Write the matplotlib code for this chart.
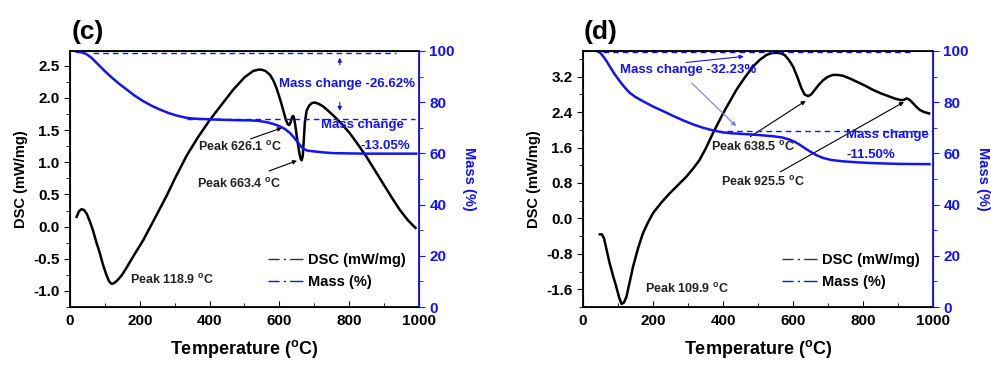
import matplotlib.pyplot as plt
from matplotlib.lines import Line2D
from matplotlib.ticker import MultipleLocator

plt.rcParams['font.family'] = ['Liberation Sans', 'DejaVu Sans']
plt.rcParams['font.weight'] = 'bold'
plt.rcParams['axes.labelweight'] = 'bold'
plt.rcParams['axes.unicode_minus'] = False
plt.rcParams['mathtext.fontset'] = 'custom'
plt.rcParams['mathtext.rm'] = 'Liberation Sans:bold'
plt.rcParams['mathtext.bf'] = 'Liberation Sans:bold'

BLUE = '#1414f0'

# ---- panel (c) data ----
c_temp = [19, 26, 33, 40, 48, 57, 66, 76, 86, 95, 105, 112, 119, 126, 135, 148, 162, 185, 210,
          250, 277, 300, 334, 368, 401, 435, 468, 500, 525, 540, 549, 560, 573, 583, 592, 602,
          611, 618, 624, 628, 632, 637, 640, 643, 647, 652, 657, 661, 664, 667, 670, 673, 678,
          685, 693, 701, 712, 725, 740, 754, 778, 802, 826, 849, 873, 897, 921, 945, 968, 990]
c_dsc = [0.15, 0.24, 0.27, 0.26, 0.20, 0.08, -0.06, -0.25, -0.42, -0.60, -0.76, -0.85, -0.89,
         -0.88, -0.84, -0.76, -0.64, -0.43, -0.21, 0.20, 0.48, 0.74, 1.10, 1.40, 1.66, 1.90,
         2.13, 2.32, 2.42, 2.44, 2.44, 2.42, 2.36, 2.27, 2.15, 1.98, 1.81, 1.67, 1.59, 1.58,
         1.62, 1.71, 1.72, 1.66, 1.52, 1.32, 1.15, 1.05, 1.03, 1.10, 1.35, 1.62, 1.80, 1.88,
         1.92, 1.93, 1.91, 1.87, 1.80, 1.73, 1.60, 1.45, 1.27, 1.09, 0.88, 0.67, 0.46, 0.26,
         0.10, -0.02]

c_mass_temp = [19, 35, 48, 62, 76, 95, 115, 138, 162, 186, 210, 234, 258, 282, 305, 330, 353,
               385, 420, 470, 515, 540, 563, 583, 601, 616, 630, 642, 654, 662, 668, 680, 697,
               725, 754, 800, 849, 992]
c_mass = [99.7, 99.4, 98.7, 97.3, 95.4, 92.8, 90.2, 87.5, 85.0, 82.5, 80.4, 78.6, 77.1, 75.8,
          74.8, 74.0, 73.6, 73.4, 73.2, 73.0, 72.9, 72.7, 72.2, 71.5, 70.6, 69.5, 68.0, 66.2,
          64.1, 62.7, 61.8, 61.1, 60.8, 60.4, 60.1, 60.0, 59.9, 59.9]

# ---- panel (d) data ----
d_temp = [48, 54, 60, 66, 76, 86, 95, 103, 110, 117, 124, 133, 143, 157, 171, 185, 200, 224,
          248, 271, 295, 314, 333, 352, 371, 400, 438, 462, 486, 505, 524, 538, 552, 564, 576,
          588, 600, 612, 624, 633, 643, 652, 662, 674, 686, 700, 714, 728, 743, 762, 781, 805,
          829, 852, 876, 893, 910, 918, 924, 931, 938, 950, 962, 975, 989]
d_dsc = [-0.36, -0.36, -0.45, -0.66, -1.01, -1.30, -1.54, -1.78, -1.93, -1.90, -1.77, -1.45,
         -1.09, -0.68, -0.34, -0.10, 0.12, 0.36, 0.57, 0.75, 0.94, 1.12, 1.32, 1.60, 1.92, 2.37,
         2.90, 3.18, 3.43, 3.58, 3.69, 3.73, 3.74, 3.73, 3.69, 3.58, 3.43, 3.20, 2.94, 2.80,
         2.76, 2.80, 2.90, 3.02, 3.12, 3.20, 3.24, 3.24, 3.22, 3.16, 3.09, 3.00, 2.90, 2.82,
         2.75, 2.70, 2.67, 2.68, 2.71, 2.69, 2.64, 2.54, 2.45, 2.40, 2.37]

d_mass_temp = [43, 50, 57, 66, 76, 90, 105, 119, 133, 150, 171, 200, 229, 258, 286, 315, 343,
               371, 400, 430, 457, 500, 543, 570, 590, 605, 619, 633, 648, 667, 686, 710, 743,
               785, 829, 900, 990]
d_mass = [99.7, 99.2, 98.0, 96.3, 94.1, 91.0, 88.2, 85.8, 83.7, 82.0, 80.4, 78.3, 76.5, 74.6,
          72.9, 71.3, 70.0, 69.0, 68.2, 67.8, 67.6, 67.2, 66.7, 66.2, 65.4, 64.5, 63.4, 62.1,
          60.8, 59.3, 58.2, 57.4, 56.9, 56.5, 56.2, 55.9, 55.8]

legend_labels = ['DSC (mW/mg)', 'Mass (%)']
deg = r'$^{\rm o}$'


def style_axes(ax, ax2, ylim, ymajor):
    ax.set_xlim(0, 1000)
    ax.set_ylim(*ylim)
    ax2.set_ylim(0, 100)
    ax.xaxis.set_major_locator(MultipleLocator(200))
    ax.xaxis.set_minor_locator(MultipleLocator(100))
    ax.yaxis.set_major_locator(MultipleLocator(ymajor))
    ax.yaxis.set_minor_locator(MultipleLocator(ymajor / 2))
    ax2.yaxis.set_major_locator(MultipleLocator(20))
    ax2.yaxis.set_minor_locator(MultipleLocator(10))
    ax.tick_params(axis='x', which='both', direction='in', labelsize=11, pad=5)
    ax.tick_params(axis='x', which='major', length=4)
    ax.tick_params(axis='x', which='minor', length=3)
    ax.tick_params(axis='y', which='major', direction='out', length=4, labelsize=11)
    ax.tick_params(axis='y', which='minor', direction='out', length=3)
    ax2.tick_params(axis='y', which='major', direction='out', length=4, labelsize=11,
                    colors=BLUE)
    ax2.tick_params(axis='y', which='minor', direction='out', length=3, colors=BLUE)
    ax2.spines['right'].set_color(BLUE)
    ax2.spines['right'].set_linewidth(1.3)
    for s in ['left', 'bottom', 'top']:
        ax.spines[s].set_linewidth(1.3)
    ax.set_xlabel('Temperature (' + deg + 'C)', fontsize=13, labelpad=7)
    ax.set_ylabel('DSC (mW/mg)', fontsize=10.5, labelpad=4)
    ax2.set_ylabel('Mass (%)', fontsize=10.5, color=BLUE, rotation=270, labelpad=15)
    for lab in ax.get_xticklabels() + ax.get_yticklabels() + ax2.get_yticklabels():
        lab.set_fontweight('bold')
    handles = [Line2D([], [], color='#333333', lw=1.0, ls=(0, (8, 3, 1.6, 3, 10, 3))),
               Line2D([], [], color=BLUE, lw=1.0, ls=(0, (8, 3, 1.6, 3, 10, 3)))]
    ax2.legend(handles, legend_labels, loc='lower left', bbox_to_anchor=(0.53, 0.02),
               frameon=False, fontsize=10.5, handlelength=2.4, handletextpad=0.35,
               labelspacing=0.5)


fig = plt.figure(figsize=(9.91, 3.65), dpi=100)

# ---------- (c) ----------
axc = fig.add_axes([0.0706, 0.1589, 0.3522, 0.7014])
axc2 = axc.twinx()
axc.plot(c_temp, c_dsc, color='black', lw=1.8)
axc2.plot(c_mass_temp, c_mass, color=BLUE, lw=1.8)
axc2.plot([67, 935], [99.3, 99.3], color=BLUE, lw=1.0, ls=(0, (4, 3)))
axc2.plot([334, 988], [73.5, 73.5], color=BLUE, lw=1.0, ls=(0, (4, 3)))
style_axes(axc, axc2, (-1.25, 2.73), 0.5)

axc2.annotate('', xy=(773, 98.5), xytext=(773, 93.5),
              arrowprops=dict(arrowstyle='-|>', color=BLUE, lw=0.8, mutation_scale=6))
axc2.annotate('', xy=(773, 75.5), xytext=(773, 81),
              arrowprops=dict(arrowstyle='-|>', color=BLUE, lw=0.8, mutation_scale=6))
axc2.text(795, 87, 'Mass change -26.62%', color=BLUE, fontsize=9.5, ha='center', va='center')
axc2.text(838, 71, 'Mass change', color=BLUE, fontsize=9.5, ha='center', va='center')
axc2.text(975, 63, '-13.05%', color=BLUE, fontsize=9.5, ha='right', va='center')

axc.annotate('', xy=(615, 1.55), xytext=(510, 1.35),
             arrowprops=dict(arrowstyle='-|>', color='black', lw=0.8, mutation_scale=6))
axc.text(367, 1.24, 'Peak 626.1 ' + deg + 'C', fontsize=9, ha='left', va='center',
         color='#222222')
axc.annotate('', xy=(658, 1.04), xytext=(563, 0.85),
             arrowprops=dict(arrowstyle='-|>', color='black', lw=0.8, mutation_scale=6))
axc.text(363, 0.67, 'Peak 663.4 ' + deg + 'C', fontsize=9, ha='left', va='center',
         color='#222222')
axc.text(172, -0.83, 'Peak 118.9 ' + deg + 'C', fontsize=9, ha='left', va='center',
         color='#222222')
fig.text(0.0727, 0.893, '(c)', fontsize=19, ha='left', va='baseline')

# ---------- (d) ----------
axd = fig.add_axes([0.5883, 0.1589, 0.3532, 0.7014])
axd2 = axd.twinx()
axd.plot(d_temp, d_dsc, color='black', lw=1.8)
axd2.plot(d_mass_temp, d_mass, color=BLUE, lw=1.8)
axd2.plot([57, 938], [99.6, 99.6], color=BLUE, lw=1.0, ls=(0, (4, 3)))
axd2.plot([410, 1000], [68.6, 68.6], color=BLUE, lw=1.0, ls=(0, (4, 3)))
style_axes(axd, axd2, (-2.0, 3.78), 0.8)

axd2.annotate('', xy=(467, 98), xytext=(286, 95.4),
              arrowprops=dict(arrowstyle='-|>', color=BLUE, lw=0.8, mutation_scale=6))
axd2.annotate('', xy=(443, 69.9), xytext=(305, 88.2),
              arrowprops=dict(arrowstyle='-|>', color='#7a7af0', lw=0.8, mutation_scale=6))
axd2.text(105, 92.4, 'Mass change -32.23%', color=BLUE, fontsize=9.5, ha='left',
          va='center')
axd2.text(752, 67.3, 'Mass change', color=BLUE, fontsize=9.5, ha='left', va='center')
axd2.text(752, 59.5, '-11.50%', color=BLUE, fontsize=9.5, ha='left', va='center')

axd.annotate('', xy=(643, 2.69), xytext=(471, 1.81),
             arrowprops=dict(arrowstyle='-|>', color='black', lw=0.8, mutation_scale=6))
axd.text(367, 1.62, 'Peak 638.5 ' + deg + 'C', fontsize=9, ha='left', va='center',
         color='#222222')
axd.annotate('', xy=(924, 2.66), xytext=(557, 1.02),
             arrowprops=dict(arrowstyle='-|>', color='black', lw=0.8, mutation_scale=6))
axd.text(395, 0.83, 'Peak 925.5 ' + deg + 'C', fontsize=9, ha='left', va='center',
         color='#222222')
axd.text(176, -1.6, 'Peak 109.9 ' + deg + 'C', fontsize=9, ha='left', va='center',
         color='#222222')
fig.text(0.589, 0.893, '(d)', fontsize=19, ha='left', va='baseline')

fig.savefig('out.png', dpi=100)
